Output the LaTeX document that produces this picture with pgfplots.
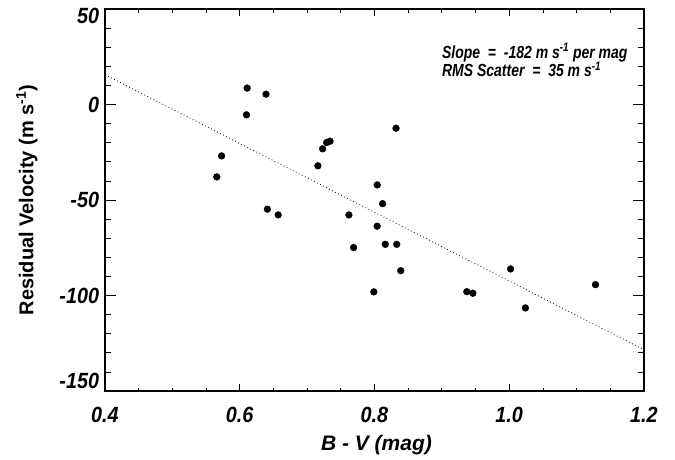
\documentclass[border=0pt]{standalone}
\usepackage{fontspec}
\setmainfont{Liberation Sans}
\newfontfamily\narrowfont[FakeStretch=0.8]{Liberation Sans}
\newfontfamily\tickfont[FakeStretch=0.9]{Liberation Sans}
\usepackage{pgfplots}
\pgfplotsset{compat=1.18}
\begin{document}
\begin{tikzpicture}
\path[use as bounding box] (-105pt,-68pt) rectangle (570pt,391pt);
\begin{axis}[
  at={(0,0)}, anchor=south west,
  scale only axis, width=539pt, height=382pt,
  xmin=0.4, xmax=1.2, ymin=-150, ymax=50,
  xtick={0.4,0.6,0.8,1.0,1.2},
  xticklabels={0.4,0.6,0.8,1.0,1.2},
  ytick={-150,-100,-50,0,50},
  yticklabels={,-100,-50,0,},
  minor x tick num=3, minor y tick num=4,
  tick align=inside, tick pos=both,
  axis line style={line width=1.1pt},
  every tick/.style={black, line width=0.8pt},
  xtick style={/pgfplots/major tick length=7pt,/pgfplots/minor tick length=3.5pt},
  ytick style={/pgfplots/major tick length=11pt,/pgfplots/minor tick length=6pt},
  tick label style={font=\tickfont\bfseries\itshape\fontsize{22}{26}\selectfont},
  xticklabel style={anchor=north, inner sep=0pt, yshift=-15.7pt},
  yticklabel style={anchor=east, inner sep=0pt, xshift=-5.7pt},
  xlabel={B - V (mag)},
  ylabel={Residual Velocity (m s\textsuperscript{-1})},
  xlabel style={font=\bfseries\itshape\fontsize{21}{25}\selectfont, at={(axis description cs:0.5,0)}, anchor=base, yshift=-59pt, xshift=2pt},
  ylabel style={font=\bfseries\fontsize{20}{24}\selectfont, at={([xshift=-71.7pt]axis description cs:0,0.5)}, anchor=base},
  clip=false,
]
\addplot[black, line width=0.8pt, dash pattern=on 0.8pt off 2.6pt] coordinates {(0.4,15.6) (1.2,-128.4)};
\addplot[only marks, mark=*, mark size=3.4pt, black] table {
x y
0.611 8.6
0.639 5.4
0.610 -5.4
0.573 -26.9
0.566 -37.9
0.641 -54.8
0.657 -57.8
0.716 -32.1
0.723 -23.2
0.729 -19.9
0.734 -19.2
0.832 -12.4
0.804 -42.1
0.812 -51.9
0.762 -57.8
0.804 -63.7
0.769 -74.9
0.816 -73.2
0.833 -73.2
0.839 -87.0
0.799 -98.1
0.937 -98.0
0.946 -98.8
1.002 -86.1
1.024 -106.5
1.128 -94.3
};
\node[anchor=east, inner sep=0pt, font=\tickfont\bfseries\itshape\fontsize{22}{26}\selectfont] at ([xshift=-5.7pt,yshift=-7.4pt]rel axis cs:0,1) {50};
\node[anchor=east, inner sep=0pt, font=\tickfont\bfseries\itshape\fontsize{22}{26}\selectfont] at ([xshift=-5.7pt,yshift=10pt]rel axis cs:0,0) {-150};
\node[anchor=base west, inner sep=0pt, font=\narrowfont\bfseries\itshape\fontsize{17.5}{20}\selectfont] at (axis cs:0.9,24.3) {Slope~ =~ -182 m s\textsuperscript{-1} per mag};
\node[anchor=base west, inner sep=0pt, font=\narrowfont\bfseries\itshape\fontsize{17.5}{20}\selectfont] at (axis cs:0.9,14.7) {RMS Scatter~ =~ 35 m s\textsuperscript{-1}};
\end{axis}
\end{tikzpicture}
\end{document}
